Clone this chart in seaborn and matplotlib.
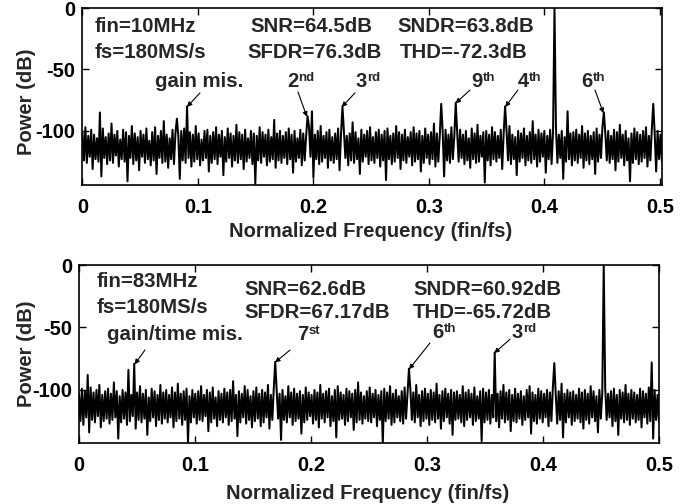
import numpy as np
import pandas as pd
import matplotlib
matplotlib.use("Agg")
import matplotlib.pyplot as plt
import seaborn as sns

# ---------------- data (read / estimated from the picture) ----------------
# noise floor: successive bins, alternating local peaks and troughs (dB)
top_noise_db = [
    -101,-124,-97,-126,-104,-121,-99,-131,-103,-123,-106,-125,-100,-137,-98,-122,-105,-127,-102,-124,
    -94,-126,-103,-120,-100,-129,-107,-123,-99,-125,-101,-141,-104,-122,-96,-127,-102,-124,-105,-132,
    -100,-121,-103,-126,-98,-123,-108,-128,-101,-124,-97,-135,-104,-122,-100,-126,-92,-125,-103,-130,
    -106,-123,-99,-127,-102,-121,-104,-139,-100,-124,-98,-126,-105,-122,-101,-129,-103,-125,-96,-123,
    -102,-128,-107,-124,-100,-122,-99,-133,-104,-126,-101,-123,-97,-127,-103,-121,-100,-136,-105,-125,
    -98,-122,-102,-129,-104,-124,-95,-126,-101,-123,-103,-131,-99,-125,-106,-122,-100,-127,-102,-143,
    -104,-124,-97,-126,-101,-121,-103,-128,-99,-125,-105,-123,-91,-130,-102,-124,-100,-126,-104,-122,
    -101,-127,-98,-123,-103,-134,-100,-125,-106,-122,-99,-128,-102,-124,-104,-126,-97,-121,-101,-138,
    -103,-123,-100,-127,-96,-125,-104,-122,-101,-130,-99,-124,-105,-126,-102,-123,-98,-132,-103,-125,
    -100,-122,-104,-128,-102,-124,-93,-126,-101,-123,-106,-135,-99,-125,-103,-121,-100,-127,-97,-124,
    -105,-126,-101,-122,-99,-129,-103,-124,-100,-140,-98,-123,-104,-127,-102,-125,-96,-122,-101,-131,
    -103,-124,-99,-126,-105,-121,-101,-128,-97,-125,-102,-123,-100,-133,-104,-126,-98,-122,-103,-127,
    -101,-123,-94,-129,-102,-125,-104,-122,-100,-137,-99,-124,-103,-126,-97,-123,-105,-128,-101,-125,
    -99,-122,-103,-127,-100,-124,-106,-130,-98,-123,-102,-126,-95,-125,-104,-121,-101,-142,-100,-124,
    -103,-128,-97,-123,-101,-125,-104,-122,-99,-131,-102,-126,-100,-124,-96,-127,-103,-123,-105,-136,
    -100,-125,-102,-122,-98,-128,-104,-124,-101,-126,-92,-123,-103,-129,-99,-125,-102,-121,-100,-134,
    -104,-123,-99,-127,-101,-124,-97,-126,-103,-122,-100,-139,-105,-125,-98,-123,-102,-128,-101,-124,
    -99,-126,-103,-122,-96,-130,-102,-124,-100,-127,-104,-123,-101,-135,-98,-125,-103,-122,-97,-128,
    -102,-124,-100,-126,-104,-123,-99,-132,-101,-125,-95,-122,-103,-128,-100,-124,-106,-141,-102,-126,
    -98,-123,-101,-127,-103,-125,-100,-122,-97,-129,-104,-124,-99,-126,-102,-133,-100,-123,-103,-125,
]
bottom_noise_db = [
    -103,-125,-99,-128,-101,-122,-105,-134,-98,-124,-102,-126,-100,-121,-96,-130,-104,-125,-101,-123,
    -99,-127,-103,-124,-94,-122,-101,-139,-105,-126,-100,-123,-102,-128,-98,-125,-104,-121,-100,-131,
    -102,-124,-97,-126,-103,-123,-100,-136,-106,-125,-99,-122,-101,-129,-104,-124,-96,-127,-102,-123,
    -100,-126,-104,-122,-98,-130,-102,-125,-95,-123,-103,-128,-101,-124,-99,-142,-105,-126,-100,-122,
    -103,-127,-101,-124,-97,-125,-104,-121,-100,-133,-102,-126,-98,-123,-106,-129,-101,-124,-103,-126,
    -99,-122,-102,-128,-100,-125,-93,-123,-104,-137,-101,-126,-103,-122,-97,-127,-100,-124,-105,-130,
    -101,-125,-98,-123,-103,-129,-100,-126,-102,-122,-96,-131,-104,-124,-99,-127,-101,-123,-103,-140,
    -100,-124,-105,-126,-97,-122,-102,-128,-99,-125,-103,-123,-101,-135,-104,-126,-98,-124,-102,-121,
    -104,-127,-100,-124,-102,-130,-96,-123,-103,-126,-101,-122,-99,-129,-105,-125,-100,-138,-97,-124,
    -102,-123,-104,-128,-99,-125,-101,-122,-103,-132,-100,-126,-94,-124,-102,-127,-105,-123,-101,-125,
    -98,-126,-103,-122,-100,-129,-104,-124,-101,-143,-99,-125,-102,-123,-97,-128,-103,-126,-100,-122,
    -105,-125,-101,-127,-98,-123,-103,-134,-100,-124,-102,-126,-96,-122,-104,-129,-101,-125,-99,-123,
    -103,-128,-100,-124,-102,-126,-95,-123,-104,-131,-101,-125,-99,-122,-103,-127,-100,-136,-102,-124,
    -101,-123,-104,-126,-97,-129,-102,-124,-100,-122,-103,-128,-98,-125,-105,-123,-101,-141,-99,-126,
    -102,-124,-100,-127,-104,-122,-98,-125,-103,-130,-101,-123,-96,-126,-102,-124,-100,-133,-104,-125,
    -99,-126,-103,-123,-101,-128,-105,-124,-100,-122,-97,-135,-102,-125,-104,-127,-99,-123,-101,-126,
    -103,-122,-100,-129,-102,-125,-98,-123,-104,-127,-101,-124,-95,-138,-103,-126,-100,-122,-102,-128,
    -101,-125,-104,-123,-99,-126,-102,-131,-100,-124,-103,-127,-97,-122,-101,-125,-105,-134,-100,-123,
    -102,-127,-98,-124,-103,-122,-101,-129,-99,-125,-104,-136,-100,-123,-102,-126,-96,-124,-103,-128,
    -100,-123,-102,-126,-104,-124,-99,-130,-101,-122,-103,-127,-98,-125,-102,-139,-100,-124,-104,-126,
]

top_spur_freq = [0.015, 0.082, 0.0905, 0.1943, 0.1987, 0.2245, 0.310, 0.323, 0.366, 0.409, 0.420, 0.451, 0.494]
top_spur_db   = [-85,   -90,   -80,    -88,    -84,    -80,    -78,   -77,   -80,   0,     -84,   -85,   -78]
bottom_spur_freq = [0.008, 0.042, 0.048, 0.169, 0.2845, 0.358, 0.4095, 0.4526, 0.494]
bottom_spur_db   = [-88,   -84,   -79,   -77.5, -83,    -70,   -78.5,  0,      -78]

top_freq_end = 0.5017
bottom_freq_end = 0.5

x_ticks = [0, 0.1, 0.2, 0.3, 0.4, 0.5]
x_tick_labels = ["0", "0.1", "0.2", "0.3", "0.4", "0.5"]
y_ticks = [0, -50, -100]
y_tick_labels = ["0", "-50", "-100"]

top_info = ["fin=10MHz", "fs=180MS/s", "SNR=64.5dB", "SFDR=76.3dB", "SNDR=63.8dB", "THD=-72.3dB"]
bottom_info = ["fin=83MHz", "fs=180MS/s", "SNR=62.6dB", "SFDR=67.17dB", "SNDR=60.92dB", "THD=-65.72dB"]

top_label_base = ["gain mis.", "2", "3", "9", "4", "6"]
top_label_sup = ["", "nd", "rd", "th", "th", "th"]
bottom_label_base = ["gain/time mis.", "7", "6", "3"]
bottom_label_sup = ["", "st", "th", "rd"]

# ---------------- style ----------------
sns.set_theme(style="ticks")
plt.rcParams['font.family'] = ['Liberation Sans', 'DejaVu Sans']
plt.rcParams['font.weight'] = 'bold'
plt.rcParams['axes.labelweight'] = 'bold'


def build(noise, sf, sd, fend):
    n = len(noise)
    freq = np.linspace(0, fend, n)
    p = np.array(noise, dtype=float)
    for f, d in zip(sf, sd):
        p[int(round(f / fend * (n - 1)))] = d
    return pd.DataFrame({"freq": freq, "power": p})


def style_axes(ax, xend, ybot):
    ax.set_xlim(0, xend)
    ax.set_ylim(ybot, 0)
    ax.set_xticks(x_ticks)
    ax.set_xticklabels(x_tick_labels)
    ax.set_yticks(y_ticks)
    ax.set_yticklabels(y_tick_labels)
    ax.tick_params(direction='in', length=5, width=1, top=True, right=True,
                   labelsize=14.5, colors='black')
    ax.tick_params(axis='x', pad=9)
    ax.tick_params(axis='y', pad=5)
    for t in ax.get_xticklabels() + ax.get_yticklabels():
        t.set_fontweight('bold')
    for s in ax.spines.values():
        s.set_linewidth(1.2)
        s.set_color('black')
        s.set_visible(True)
    ax.set_facecolor('white')
    ax.set_xlabel("Normalized Frequency (fin/fs)", fontsize=14.5, fontweight='bold')
    ax.set_ylabel("Power (dB)", fontsize=14.5, fontweight='bold')


def sup_label(ax, x, y, base, sup, fs, sfs):
    t = ax.text(x, y, base, fontsize=fs, fontweight='bold', ha='left', va='baseline')
    if sup:
        ax.annotate(sup, xy=(1.0, 0.0), xycoords=t, xytext=(0.2, 7.5),
                    textcoords='offset points', fontsize=sfs, fontweight='bold',
                    ha='left', va='baseline')


fig = plt.figure(figsize=(6.96, 5.04), dpi=100)
fig.patch.set_facecolor('white')
ax1 = fig.add_axes([0.1185, 0.6329, 0.8326, 0.3512])
ax2 = fig.add_axes([0.1135, 0.1210, 0.8333, 0.3532])

df_top = build(top_noise_db, top_spur_freq, top_spur_db, top_freq_end)
df_bot = build(bottom_noise_db, bottom_spur_freq, bottom_spur_db, bottom_freq_end)

sns.lineplot(data=df_top, x="freq", y="power", ax=ax1, color='black', linewidth=1.45, estimator=None)
sns.lineplot(data=df_bot, x="freq", y="power", ax=ax2, color='black', linewidth=1.45, estimator=None)

style_axes(ax1, top_freq_end, -144)
style_axes(ax2, bottom_freq_end, -142.5)
ax1.yaxis.set_label_coords(-0.0795, 0.47)
ax2.yaxis.set_label_coords(-0.0745, 0.5)
ax1.xaxis.set_label_coords(0.497, -0.209)
ax2.xaxis.set_label_coords(0.497, -0.23)

fs_txt = 14.7
info_pos_top = [(0.0108, -19.5), (0.0108, -40.7), (0.145, -19.5), (0.143, -40.7), (0.273, -19.5), (0.275, -40.7)]
for s, (x, y) in zip(top_info, info_pos_top):
    ax1.text(x, y, s, fontsize=fs_txt, fontweight='bold', ha='left', va='baseline')
info_pos_bot = [(0.0155, -17.6), (0.0155, -38.4), (0.143, -24), (0.143, -42.4), (0.288, -24), (0.288, -42.4)]
for s, (x, y) in zip(bottom_info, info_pos_bot):
    ax2.text(x, y, s, fontsize=fs_txt, fontweight='bold', ha='left', va='baseline')

arrow = dict(arrowstyle='-|>', lw=0.8, color='black', mutation_scale=7, shrinkA=0, shrinkB=0)

top_ann_text = [(0.0628, -64.2), (0.177, -64.2), (0.2368, -64.2), (0.337, -64.2), (0.377, -64.2), (0.4316, -64.2)]
top_ann_from = [(0.1017, -69.1), (0.1866, -68.3), (0.236, -69), (0.3355, -66.7), (0.377, -66.7), (0.4437, -66.7)]
top_ann_to = [(0.0905, -80.5), (0.1943, -88.5), (0.2245, -80.5), (0.323, -77.5), (0.366, -80.5), (0.451, -85.5)]
for b, s, tp, fp, ep in zip(top_label_base, top_label_sup, top_ann_text, top_ann_from, top_ann_to):
    sup_label(ax1, tp[0], tp[1], b, s, fs_txt if not s else 14.5, 9.5)
    ax1.annotate("", xy=ep, xytext=fp, arrowprops=arrow)

bot_ann_text = [(0.0241, -60), (0.188, -60), (0.3043, -58.5), (0.373, -58.5)]
bot_ann_from = [(0.0569, -68), (0.182, -68), (0.3026, -62.4), (0.3716, -59.4)]
bot_ann_to = [(0.048, -79.5), (0.169, -78), (0.2845, -83.5), (0.358, -70.5)]
for b, s, tp, fp, ep in zip(bottom_label_base, bottom_label_sup, bot_ann_text, bot_ann_from, bot_ann_to):
    sup_label(ax2, tp[0], tp[1], b, s, fs_txt if not s else 14.5, 9.5)
    ax2.annotate("", xy=ep, xytext=fp, arrowprops=arrow)

fig.savefig("out.png", dpi=100, facecolor='white')
